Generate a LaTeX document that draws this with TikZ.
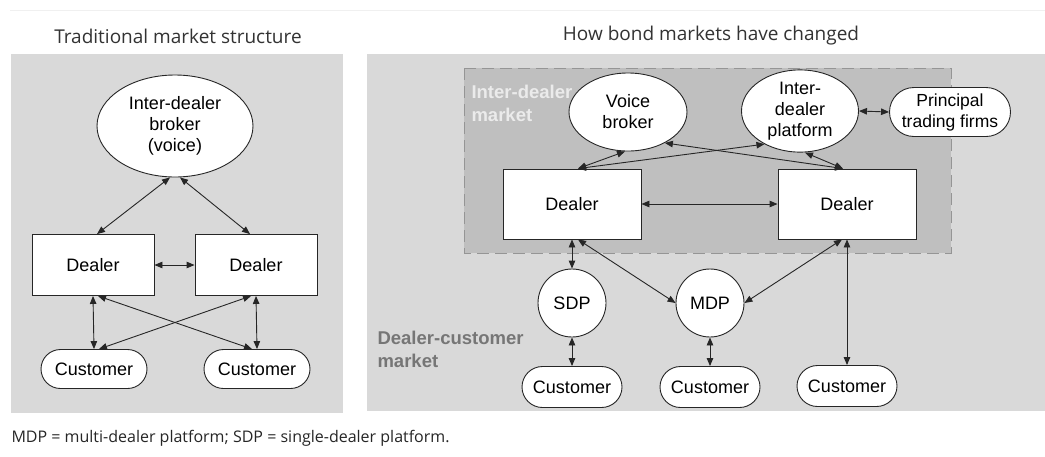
\documentclass[tikz,border=0pt]{standalone}
\usepackage{fontspec}
\setmainfont{Liberation Sans}
\newfontfamily\capfont{Open Sans}
\usepackage{tikz}
\usetikzlibrary{arrows.meta,shapes.geometric}

\definecolor{panelgray}{HTML}{D9D9D9}
\definecolor{innergray}{HTML}{BFBFBF}
\definecolor{dashgray}{HTML}{959595}
\definecolor{labelgray}{HTML}{767676}

\tikzset{
  base/.style={draw=black!85,fill=white,line width=0.9pt,font=\fontsize{18}{21}\selectfont,align=center,inner sep=0pt},
  dealerbox/.style={base,shape=rectangle,minimum width=#1,minimum height=66pt},
  oval/.style 2 args={base,shape=ellipse,minimum width=#1,minimum height=#2},
  pill/.style 2 args={base,shape=rectangle,rounded corners=#2/2,minimum width=#1,minimum height=#2},
  platform/.style={base,shape=circle,minimum size=68pt},
  link/.style={<->,>={Triangle[length=8pt,width=6.5pt]},line width=0.9pt,black!85},
  heading/.style={font=\capfont\fontsize{19}{22}\selectfont,text=black!80},
}

\begin{document}
\begin{tikzpicture}[x=1pt,y=-1pt]
  \useasboundingbox[fill=white] (0,0) rectangle (1045,456);
  \draw[black!6,line width=1pt] (10,10) -- (1045,10);

  % panels
  \fill[panelgray] (11,54) rectangle (343,413);
  \fill[panelgray] (367,54) rectangle (1045,411);
  \draw[dashgray,fill=innergray,line width=1pt,dash pattern=on 12pt off 6pt] (464,68) rectangle (951,253);

  \node[heading] (titleA) at (178,36) {Traditional market structure};
  \node[heading] (titleB) at (711,36) {How bond markets have changed};
  \node[anchor=west,font=\capfont\fontsize{16}{19}\selectfont,text=black!85] (note) at (8,438)
    {MDP = multi-dealer platform; SDP = single-dealer platform.};

  \node[anchor=north west,align=left,font=\bfseries\fontsize{18.5}{23}\selectfont,text=white!92!black] (idm) at (468,82) {Inter-dealer\\market};
  \node[anchor=north west,align=left,font=\bfseries\fontsize{18.5}{23}\selectfont,text=labelgray] (dcm) at (374,328) {Dealer-customer\\market};

  % traditional structure
  \node[oval={156pt}{102pt}] (broker) at (175,126) {Inter-dealer\\broker\\(voice)};
  \node[dealerbox=122pt,minimum height=61pt] (dealerA) at (93,265) {Dealer};
  \node[dealerbox=122pt,minimum height=61pt] (dealerB) at (256,265) {Dealer};
  \node[pill={106pt}{39pt}] (custA) at (94,369) {Customer};
  \node[pill={106pt}{39pt}] (custB) at (257,369) {Customer};

  \path[link] ([xshift=-5pt]broker.south) edge ([xshift=4pt]dealerA.north);
  \path[link] ([xshift=5pt]broker.south) edge ([xshift=-6pt]dealerB.north);
  \path[link] (dealerA.east) edge (dealerB.west);
  \path[link] (dealerA.south) edge (custA.north);
  \path[link] (dealerB.south) edge (custB.north);
  \path[link] ([xshift=5pt]dealerA.south) edge ([xshift=-5pt]custB.north);
  \path[link] ([xshift=-5pt]dealerB.south) edge ([xshift=5pt]custA.north);

  % current structure
  \node[oval={118pt}{78pt}] (voice) at (628,112) {Voice\\broker};
  \node[oval={117pt}{78pt}] (idp) at (800,111) {Inter-\\dealer\\platform};
  \node[pill={121pt}{49pt},font=\fontsize{17.5}{21}\selectfont] (ptf) at (950,112) {Principal\\trading firms};
  \node[dealerbox=138pt,minimum height=70pt] (dealerL) at (572,204) {Dealer};
  \node[dealerbox=138pt,minimum height=70pt] (dealerR) at (847,204) {Dealer};
  \node[platform] (sdp) at (572,303) {SDP};
  \node[platform] (mdp) at (710,303) {MDP};
  \node[pill={100pt}{41pt}] (cust1) at (572,387) {Customer};
  \node[pill={100pt}{41pt}] (cust2) at (710,387) {Customer};
  \node[pill={100pt}{41pt}] (cust3) at (847,386) {Customer};

  \path[link] ([xshift=6pt]dealerL.north) edge ([xshift=-3pt]voice.south);
  \path[link] ([xshift=6pt]dealerL.north) edge (idp.223);
  \path[link] (voice.320) edge ([xshift=-4pt]dealerR.north);
  \path[link] ([xshift=5pt]idp.south) edge ([xshift=-4pt]dealerR.north);
  \path[link] (dealerL.east) edge (dealerR.west);
  \path[link] (idp.east) edge (ptf.west);
  \path[link] (dealerL.south) edge (sdp.north);
  \path[link] ([xshift=6pt]dealerL.south) edge (mdp.west);
  \path[link] ([xshift=-5pt]dealerR.south) edge (mdp.east);
  \path[link] (dealerR.south) edge (cust3.north);
  \path[link] (sdp.south) edge (cust1.north);
  \path[link] (mdp.south) edge (cust2.north);
\end{tikzpicture}
\end{document}
